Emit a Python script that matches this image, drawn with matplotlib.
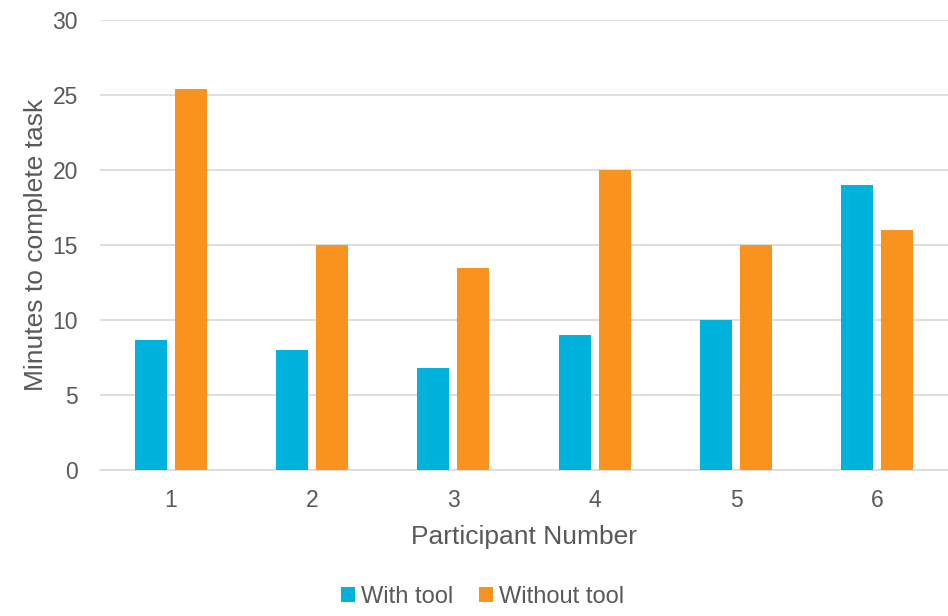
import matplotlib
matplotlib.use("Agg")
import matplotlib.pyplot as plt
import numpy as np

participants = ["1", "2", "3", "4", "5", "6"]
with_tool = [8.7, 8.0, 6.8, 9.0, 10.0, 19.0]
without_tool = [25.4, 15.0, 13.5, 20.0, 15.0, 16.0]

BLUE = "#00B2DC"
ORANGE = "#F7931E"
TEXT = "#595959"

plt.rcParams["font.family"] = ["Liberation Sans", "DejaVu Sans"]

fig = plt.figure(figsize=(9.48, 6.16), dpi=100)
ax = fig.add_axes([100 / 948, 1 - 470 / 616, 848 / 948, 450 / 616])

x = np.arange(len(participants))
width = 0.227
gap = 0.057
ax.bar(x - (width + gap) / 2, with_tool, width, color=BLUE, label="With tool", zorder=3)
ax.bar(x + (width + gap) / 2, without_tool, width, color=ORANGE, label="Without tool", zorder=3)

ax.set_xlim(-0.5, len(participants) - 0.5)
ax.set_ylim(0, 30)
ax.set_yticks(range(0, 31, 5))
ax.set_xticks(x)
ax.set_xticklabels(participants)
ax.yaxis.grid(True, color="#D9D9D9", linewidth=1.2, zorder=0)
ax.set_axisbelow(True)
for side in ("top", "right", "left"):
    ax.spines[side].set_visible(False)
ax.spines["bottom"].set_color("#D9D9D9")
ax.spines["bottom"].set_linewidth(1.2)
ax.tick_params(axis="both", length=0, labelsize=16.5, colors=TEXT)
ax.tick_params(axis="x", pad=14)
ax.tick_params(axis="y", pad=16)

ax.set_xlabel("Participant Number", fontsize=19, color=TEXT, labelpad=9)
ax.set_ylabel("Minutes to complete task", fontsize=19, color=TEXT, labelpad=3)

fig.legend(loc="lower center", bbox_to_anchor=(0.509, -0.022), ncol=2, frameon=False,
           fontsize=17, labelcolor=TEXT, handlelength=0.6, handleheight=0.6,
           handletextpad=0.25, columnspacing=1.1)

fig.savefig("out.png", dpi=100)
